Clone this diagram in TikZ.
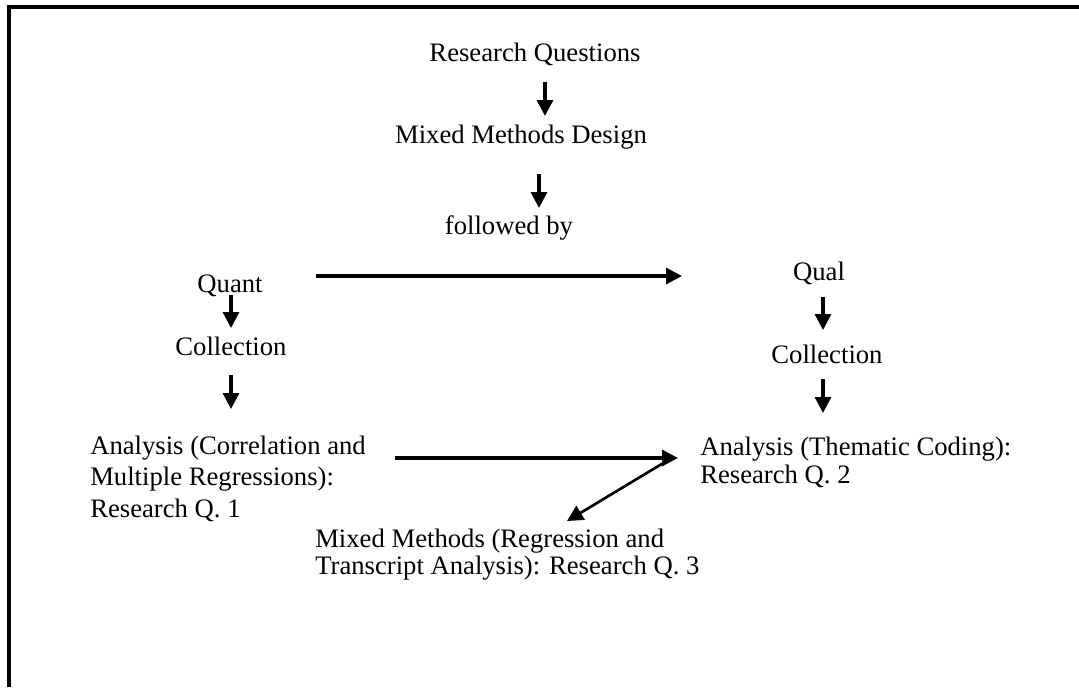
\documentclass[tikz,border=0pt]{standalone}
\usepackage{fontspec}
\setmainfont{Liberation Serif}
\usetikzlibrary{arrows.meta}
\begin{document}
\begin{tikzpicture}[x=0.75pt,y=-0.75pt,
  txt/.style={inner sep=0pt,font=\fontsize{20pt}{24pt}\selectfont},
  arr/.style={line width=2.4pt,-{Triangle[length=12pt,width=12pt]}},
  frame/.style={line width=3pt}]
\useasboundingbox (0,0) rectangle (1079,687);
% frame
\coordinate (fbl) at (9,687);
\coordinate (ftl) at (9,7);
\coordinate (ftr) at (1079,7);
\draw[frame] (fbl) -- (ftl) -- (ftr);
% texts
\node[txt,anchor=base] (rq) at (535,61) {Research Questions};
\node[txt,anchor=base] (mmd) at (521,143) {Mixed Methods Design};
\node[txt,anchor=base] (fb) at (509,234) {followed by};
\node[txt,anchor=base] (quant) at (230,292) {Quant};
\node[txt,anchor=base] (colL) at (231,355) {Collection};
\node[txt,anchor=base] (qual) at (819,280) {Qual};
\node[txt,anchor=base] (colR) at (827,363) {Collection};
\node[txt,anchor=base west] (anaL1) at (90,454) {Analysis (Correlation and};
\node[txt,anchor=base west] (anaL2) at (90,485) {Multiple Regressions):};
\node[txt,anchor=base west] (anaL3) at (90,517) {Research Q. 1};
\node[txt,anchor=base west] (anaR1) at (700,455) {Analysis (Thematic Coding):};
\node[txt,anchor=base west] (anaR2) at (700,483) {Research Q. 2};
\node[txt,anchor=base west] (mmq1) at (315,547) {Mixed Methods (Regression and};
\node[txt,anchor=base west] (mmq2) at (315,574) {Transcript Analysis): Research Q. 3};
% arrow end points
\coordinate (a1s) at (545,82);  \coordinate (a1e) at (545,116);
\coordinate (a2s) at (539,174); \coordinate (a2e) at (539,208);
\coordinate (a3s) at (231,295); \coordinate (a3e) at (231,328);
\coordinate (a4s) at (231,375); \coordinate (a4e) at (231,409);
\coordinate (a5s) at (823,297); \coordinate (a5e) at (823,330);
\coordinate (a6s) at (823,379); \coordinate (a6e) at (823,413);
\coordinate (h1s) at (316,276); \coordinate (h1e) at (682,276);
\coordinate (h2s) at (395,458); \coordinate (h2e) at (678,458);
\coordinate (d1s) at (665,462); \coordinate (d1e) at (567,521);
% arrows
\draw[arr] (a1s) -- (a1e);
\draw[arr] (a2s) -- (a2e);
\draw[arr] (a3s) -- (a3e);
\draw[arr] (a4s) -- (a4e);
\draw[arr] (a5s) -- (a5e);
\draw[arr] (a6s) -- (a6e);
\draw[arr] (h1s) -- (h1e);
\draw[arr] (h2s) -- (h2e);
\draw[arr,line width=2pt] (d1s) -- (d1e);
\end{tikzpicture}
\end{document}
